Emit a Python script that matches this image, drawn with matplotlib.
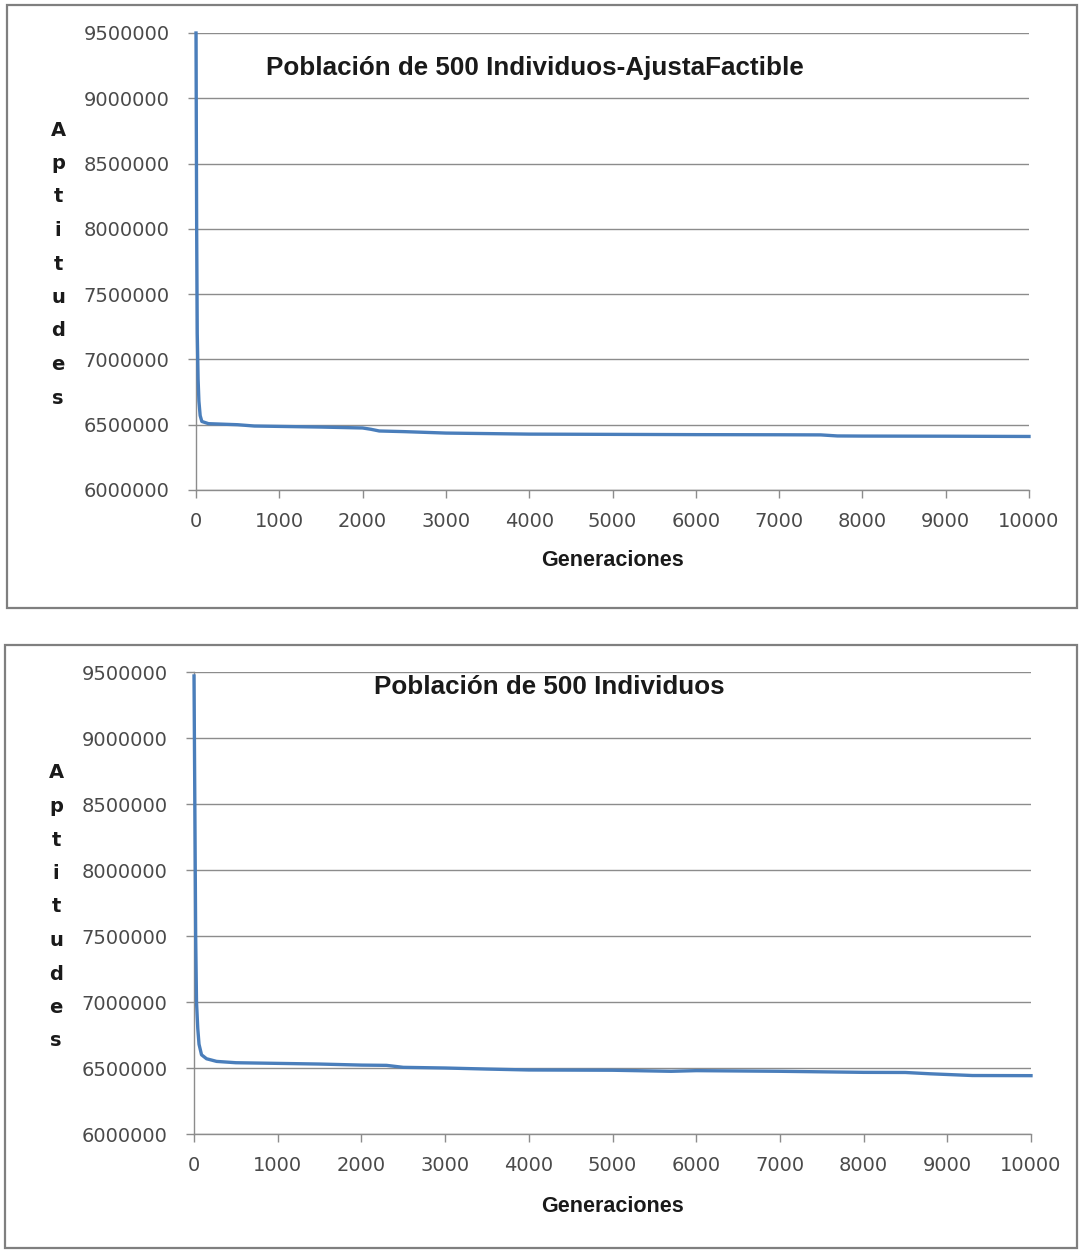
import matplotlib
matplotlib.use("Agg")
import matplotlib.pyplot as plt
from matplotlib.patches import Rectangle

# Best fitness per generation, run with the AjustaFactible repair step
gen_ajusta = [0, 8, 15, 25, 35, 50, 70, 150, 500, 700, 1000, 1500, 2000, 2100,
              2200, 2500, 3000, 4000, 5000, 6000, 7000, 7500, 7700, 8000, 9000, 10000]
fit_ajusta = [9500000, 8000000, 7200000, 6850000, 6680000, 6570000, 6525000, 6508000,
              6500000, 6490000, 6487000, 6482000, 6475000, 6465000, 6452000, 6447000,
              6436000, 6428000, 6426000, 6424000, 6423000, 6422000, 6414000, 6413000,
              6412000, 6410000]

# Best fitness per generation, plain run
gen_plain = [0, 10, 20, 30, 45, 60, 90, 150, 270, 500, 1000, 1500, 2000, 2300, 2500,
             3000, 3500, 4000, 5000, 5700, 6000, 7000, 8000, 8500, 8800, 9300, 10000]
fit_plain = [9470000, 8500000, 7500000, 7000000, 6800000, 6680000, 6600000, 6570000,
             6550000, 6540000, 6535000, 6530000, 6522000, 6520000, 6505000, 6500000,
             6492000, 6485000, 6483000, 6475000, 6480000, 6475000, 6467000, 6466000,
             6456000, 6443000, 6442000]

titles = ["Población de 500 Individuos-AjustaFactible", "Población de 500 Individuos"]
y_ticks = [6000000, 6500000, 7000000, 7500000, 8000000, 8500000, 9000000, 9500000]
x_ticks = [0, 1000, 2000, 3000, 4000, 5000, 6000, 7000, 8000, 9000, 10000]
ylabel_letters = list("Aptitudes")
xlabel = "Generaciones"

W, H = 1079, 1250
fig = plt.figure(figsize=(W / 100, H / 100), dpi=100)
fig.patch.set_facecolor("white")

def fx(px):
    return px / W

def fy(py):
    return 1 - py / H

line_color = "#4a7ebb"
grid_color = "#8c8c8c"
tick_color = "#4a4a4a"

panels = [
    dict(box=(7, 5, 1077, 608), ax=(196, 33, 1029, 490), title=(535, 68),
         ylab=(58, 130, 33.5), xlab=(612, 561), x=gen_ajusta, y=fit_ajusta),
    dict(box=(5, 645, 1077, 1248), ax=(194, 672, 1031, 1134), title=(549, 687),
         ylab=(56, 773, 33.5), xlab=(612, 1206), x=gen_plain, y=fit_plain),
]

for i, p in enumerate(panels):
    bl, bt, br, bb = p["box"]
    fig.patches.append(Rectangle((fx(bl), fy(bb)), fx(br - bl), (bb - bt) / H,
                                 transform=fig.transFigure, fill=False,
                                 edgecolor="#7f7f7f", linewidth=1.6))
    al, at, ar, ab = p["ax"]
    ax = fig.add_axes([fx(al), fy(ab), fx(ar - al), (ab - at) / H])
    ax.plot(p["x"], p["y"], color=line_color, linewidth=2.4,
            solid_joinstyle="round", clip_on=False, zorder=3)
    ax.set_xlim(0, 10000)
    ax.set_ylim(6000000, 9500000)
    ax.set_yticks(y_ticks)
    ax.set_xticks(x_ticks)
    ax.set_yticklabels([str(v) for v in y_ticks])
    ax.set_xticklabels([str(v) for v in x_ticks])
    ax.yaxis.grid(True, color=grid_color, linewidth=1.0)
    ax.set_axisbelow(True)
    for s in ["top", "right"]:
        ax.spines[s].set_visible(False)
    for s in ["left", "bottom"]:
        ax.spines[s].set_color(grid_color)
        ax.spines[s].set_linewidth(1.0)
    ax.tick_params(axis="both", colors=grid_color, labelcolor=tick_color,
                   labelsize=14, direction="out", length=6, width=1.0)
    ax.tick_params(axis="y", pad=13)
    ax.tick_params(axis="x", pad=10)
    for lbl in ax.get_xticklabels() + ax.get_yticklabels():
        lbl.set_family("DejaVu Sans")

    tx, ty = p["title"]
    fig.text(fx(tx), fy(ty), titles[i], ha="center", va="center",
             fontsize=18.7, fontweight="bold", family="Liberation Sans", color="#1a1a1a")
    lx, ly0, step = p["ylab"]
    for k, ch in enumerate(ylabel_letters):
        fig.text(fx(lx), fy(ly0 + k * step), ch, ha="center", va="center",
                 fontsize=14, fontweight="bold", family="DejaVu Sans", color="#1a1a1a")
    gx, gy = p["xlab"]
    fig.text(fx(gx), fy(gy), xlabel, ha="center", va="center",
             fontsize=15.5, fontweight="bold", family="Liberation Sans", color="#1a1a1a")

fig.savefig("out.png", dpi=100, facecolor="white")
